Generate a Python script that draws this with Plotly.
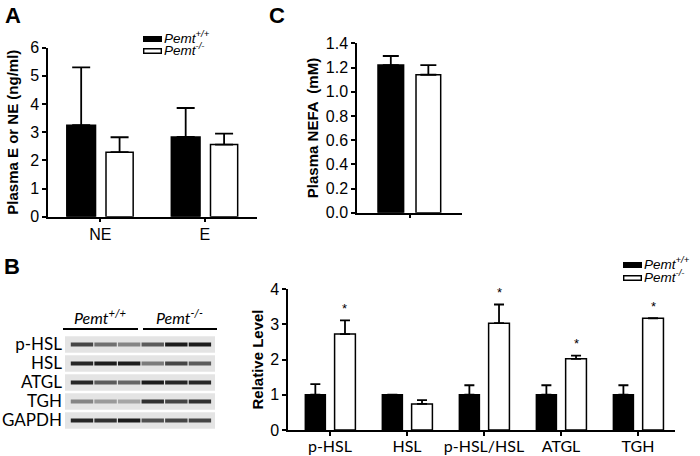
import plotly.graph_objects as go

W, H = 700, 456

### Data
# Panel A: plasma E / NE
a_groups = ["NE", "E"]
a_wt = [3.25, 2.83]
a_wt_err = [2.05, 1.03]
a_ko = [2.29, 2.56]
a_ko_err = [0.53, 0.39]

# Panel C: plasma NEFA
c_groups = ["NEFA"]
c_wt = [1.22]
c_wt_err = [0.075]
c_ko = [1.14]
c_ko_err = [0.08]

# Panel B: relative protein level
b_groups = ["p-HSL", "HSL", "p-HSL/HSL", "ATGL", "TGH"]
b_wt = [1.0, 1.0, 1.0, 1.0, 1.0]
b_wt_err = [0.3, 0.0, 0.27, 0.27, 0.27]
b_ko = [2.72, 0.74, 3.03, 2.02, 3.17]
b_ko_err = [0.39, 0.11, 0.53, 0.09, 0.0]
b_sig = [True, False, True, True, True]

# Panel B: western blot band darkness (0 = none, 1 = black), 3 WT + 3 KO lanes
blot_rows = ["p-HSL", "HSL", "ATGL", "TGH", "GAPDH"]
blot_lanes = [1, 2, 3, 4, 5, 6]
blot_bands = [
    [0.75, 0.55, 0.45, 0.65, 0.95, 0.95],
    [0.9, 0.95, 0.95, 0.5, 0.75, 0.65],
    [0.9, 0.65, 0.6, 0.95, 0.9, 0.9],
    [0.45, 0.35, 0.3, 0.85, 0.75, 0.85],
    [0.9, 0.85, 0.95, 0.7, 0.75, 0.75],
]

WT_NAME = "<i>Pemt<sup>+/+</sup></i>"
KO_NAME = "<i>Pemt<sup>-/-</sup></i>"
ARIAL = "Liberation Sans, Arial"
CALI = "Lato"


def px(x):
    return x / W


def py(y):
    return 1 - y / H


def add_pair(fig, xs, wt, wt_err, ko, ko_err, xa, ya, off, wid, cap):
    # black bar = wild type, white bar = knockout, error bars only upward
    for vals, errs, fill, o, w in [
        (wt, wt_err, "black", off[0], wid[0]),
        (ko, ko_err, "white", off[1], wid[1]),
    ]:
        fig.add_trace(
            go.Bar(
                x=xs,
                y=vals,
                offset=o,
                width=w,
                marker=dict(color=fill, line=dict(color="black", width=1.5)),
                error_y=dict(
                    type="data",
                    array=errs,
                    arrayminus=[0] * len(errs),
                    symmetric=False,
                    color="black",
                    thickness=1.8,
                    width=cap,
                ),
                xaxis=xa,
                yaxis=ya,
                showlegend=False,
            )
        )


fig = go.Figure()

### Panel A
add_pair(fig, a_groups, a_wt, a_wt_err, a_ko, a_ko_err, "x", "y",
         (-0.32, 0.055), (0.275, 0.26), 9)

### Panel C
add_pair(fig, c_groups, c_wt, c_wt_err, c_ko, c_ko_err, "x2", "y2",
         (-0.30, 0.062), (0.244, 0.235), 8)

### Panel B bar chart
add_pair(fig, b_groups, b_wt, b_wt_err, b_ko, b_ko_err, "x3", "y3",
         (-0.32, 0.06), (0.26, 0.27), 5)

for g, v, e, s in zip(b_groups, b_ko, b_ko_err, b_sig):
    if s:
        fig.add_annotation(
            x=g, y=v + e, xref="x3", yref="y3", text="*", showarrow=False,
            xshift=0.195 * 77, yshift=12, yanchor="middle",
            font=dict(family=ARIAL, size=13, color="black"),
        )

### Panel B blot
lane_lo, lane_hi = 0.28, 6.64
fig.add_trace(
    go.Bar(
        y=blot_rows,
        x=[lane_hi - lane_lo] * len(blot_rows),
        base=[lane_lo] * len(blot_rows),
        orientation="h",
        width=0.88,
        marker=dict(color="#e4e4e4", line=dict(width=0)),
        xaxis="x4",
        yaxis="y4",
        showlegend=False,
    )
)
bx, by, bc = [], [], []
for row, bands in zip(blot_rows, blot_bands):
    for lane, d in zip(blot_lanes, bands):
        bx.append(lane)
        by.append(row)
        bc.append(d)
fig.add_trace(
    go.Scatter(
        x=bx,
        y=by,
        mode="markers",
        marker=dict(
            symbol="line-ew",
            size=16,
            line=dict(
                width=4,
                color=bc,
                colorscale=[[0, "#e4e4e4"], [1, "#111111"]],
                cmin=0,
                cmax=1,
            ),
        ),
        xaxis="x4",
        yaxis="y4",
        showlegend=False,
    )
)

### Axes
axis_common = dict(
    showline=True, linecolor="black", linewidth=1.5, ticks="outside",
    ticklen=4, tickwidth=1.5, tickcolor="black", showgrid=False,
    zeroline=False, automargin=False,
    tickfont=dict(family=ARIAL, size=16, color="black"),
)
title_font = dict(family=ARIAL, size=15, color="black", weight="bold")

fig.update_layout(
    width=W,
    height=H,
    margin=dict(l=0, r=0, t=0, b=0, pad=0),
    paper_bgcolor="white",
    plot_bgcolor="white",
    barmode="overlay",
    xaxis=dict(axis_common, domain=[px(48), px(257)], anchor="y",
               type="category", range=[-0.5, 1.5], ticklabelstandoff=-2),
    yaxis=dict(axis_common, domain=[py(216.7), py(47.7)], anchor="x",
               range=[0, 6], dtick=1,
               title=dict(text="Plasma E or NE (ng/ml)", font=title_font,
                          standoff=8)),
    xaxis2=dict(axis_common, domain=[px(357), px(462)], anchor="y2",
                type="category", range=[-0.5, 0.5], showticklabels=False),
    yaxis2=dict(axis_common, domain=[py(212.7), py(43.3)], anchor="x2",
                range=[0, 1.4], dtick=0.2, tickformat=".1f",
                title=dict(text="Plasma NEFA  (mM)", font=title_font,
                           standoff=4)),
    xaxis3=dict(axis_common, domain=[px(288), px(675)], anchor="y3",
                type="category", range=[-0.545, 4.48], ticklabelstandoff=-3,
                tickfont=dict(family=CALI, size=16, color="black")),
    yaxis3=dict(axis_common, domain=[py(430), py(289)], anchor="x3",
                range=[0, 4], dtick=1,
                title=dict(text="Relative Level", font=title_font,
                           standoff=3)),
    xaxis4=dict(domain=[px(65), px(215)], anchor="y4", range=[lane_lo, lane_hi],
                visible=False, automargin=False),
    yaxis4=dict(domain=[py(430), py(335)], anchor="x4", type="category",
                range=[4.5, -0.5], showline=False, showgrid=False,
                zeroline=False, ticks="", ticklabelstandoff=2,
                automargin=False,
                tickmode="array", tickvals=blot_rows, ticktext=blot_rows,
                tickfont=dict(family=CALI, size=17, color="black")),
)

### Panel letters
for t, x, y in [("A", 3, 15), ("C", 267, 15), ("B", 2, 266)]:
    fig.add_annotation(
        x=px(x), y=py(y), xref="paper", yref="paper", text=f"<b>{t}</b>",
        showarrow=False, xanchor="left", yanchor="middle",
        font=dict(family=ARIAL, size=22, color="black"),
    )


### Manual legends
def add_legend(fig, x0, y_rows):
    for (name, fill), yc in zip([(WT_NAME, "black"), (KO_NAME, "white")], y_rows):
        fig.add_shape(
            type="rect", xref="paper", yref="paper",
            x0=px(x0 + 0.7), x1=px(x0 + 18.3), y0=py(yc + 2.2), y1=py(yc - 2.2),
            fillcolor=fill, line=dict(color="black", width=1.4),
        )
        fig.add_annotation(
            x=px(x0 + 19), y=py(yc - 2), xref="paper", yref="paper", text=name,
            showarrow=False, xanchor="left", yanchor="middle",
            font=dict(family=ARIAL, size=13.5, color="black"),
        )


add_legend(fig, 143, [39, 51])
add_legend(fig, 623, [265, 278])

### Blot header
for name, xa, xb in [(WT_NAME, 63, 138), (KO_NAME, 143, 217)]:
    fig.add_shape(
        type="line", xref="paper", yref="paper",
        x0=px(xa), x1=px(xb), y0=py(329), y1=py(329),
        line=dict(color="black", width=2),
    )
    fig.add_annotation(
        x=px((xa + xb) / 2), y=py(316), xref="paper", yref="paper", text=name,
        showarrow=False, xanchor="center", yanchor="middle",
        font=dict(family=CALI, size=16, color="black"),
    )

# page body has a default 8px margin; drop it so the figure sits at 0,0
fig.write_html(
    "out.html",
    config={"displayModeBar": False},
    post_script="document.body.style.margin='0';",
)
